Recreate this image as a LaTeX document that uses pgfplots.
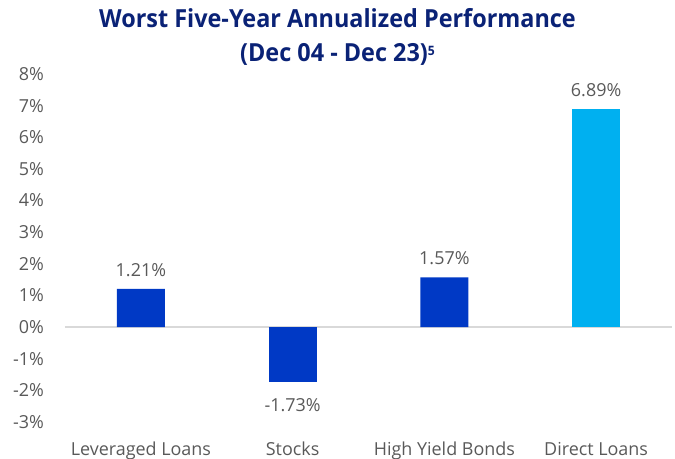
\documentclass[border=0pt]{standalone}
\usepackage{fontspec}
\setmainfont{Open Sans}
\newfontfamily\titlefont{Open Sans}[FakeStretch=0.94]
\usepackage{pgfplots}
\pgfplotsset{compat=1.18}
\definecolor{navy}{HTML}{0A2276}
\definecolor{darkblue}{HTML}{0039C5}
\definecolor{lightblue}{HTML}{00B0F0}
\definecolor{txtgray}{HTML}{595959}
\definecolor{zerogray}{HTML}{D9D9D9}
\begin{document}
\begin{tikzpicture}
\begin{axis}[name=ax, scale only axis, width=607bp, height=348bp,
  xmin=-0.5, xmax=3.5, ymin=-3, ymax=8,
  ytick={-3,-2,...,8}, xtick={0,1,2,3},
  xticklabels={Leveraged Loans, Stocks, High Yield Bonds, Direct Loans},
  axis line style={draw=none}, major tick length=0pt,
  /pgf/number format/assume math mode=true,
  yticklabel={\pgfmathprintnumber{\tick}\%},
  ticklabel style={font=\fontsize{18}{21}\selectfont, text=txtgray, inner sep=0pt},
  yticklabel style={anchor=east, xshift=-21bp},
  xticklabel style={anchor=base, yshift=-33bp},
  extra y ticks={0}, extra y tick labels={},
  extra y tick style={grid=major, grid style={draw=zerogray, line width=1.2bp}},
  ybar, bar width=48bp, bar shift=0pt,
  nodes near coords={\pgfmathprintnumber[fixed,fixed zerofill,precision=2,assume math mode=true]{\pgfplotspointmeta}\%},
  every node near coord/.append style={font=\fontsize{18}{21}\selectfont, text=txtgray, inner sep=0pt},
  clip=false,
]
\addplot[draw=none, fill=darkblue, every node near coord/.append style={anchor=south, yshift=12bp}]
  coordinates {(0,1.21) (2,1.57)};
\addplot[draw=none, fill=darkblue, every node near coord/.append style={anchor=north, yshift=-16bp}]
  coordinates {(1,-1.73)};
\addplot[draw=none, fill=lightblue, every node near coord/.append style={anchor=south, yshift=12bp}]
  coordinates {(3,6.89)};
\end{axis}
\node[font=\titlefont\bfseries\fontsize{25}{35}\selectfont, text=navy, align=center]
  at ([xshift=-31bp, yshift=37bp]ax.north) {Worst Five-Year Annualized Performance\\(Dec 04 - Dec 23)\raisebox{6bp}{\fontsize{13}{13}\selectfont 5}};
\pgfresetboundingbox
\path ([xshift=-65bp,yshift=-36bp]ax.south west) rectangle ([xshift=3bp,yshift=74bp]ax.north east);
\end{tikzpicture}
\end{document}
